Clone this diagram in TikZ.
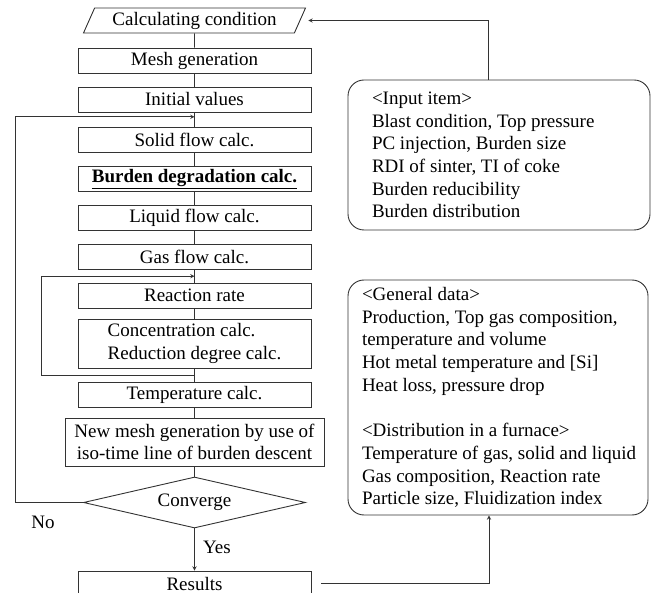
\documentclass[tikz,border=0pt]{standalone}
\usepackage{fontspec}
\setmainfont{Liberation Serif}
\usetikzlibrary{shapes.geometric}
\begin{document}
\begin{tikzpicture}[x=1pt,y=-1pt,line width=0.9pt,draw=black!80,>=stealth,
every node/.style={font=\fontsize{19}{22.7}\selectfont},
fbox/.style={draw,minimum width=233pt,minimum height=25pt,inner sep=2pt},
infobox/.style={draw,rounded corners=16pt,inner sep=0pt}]
\useasboundingbox(0,0)rectangle(656,593);
\pgfmathsetmacro{\kcx}{194.5}
\node[draw,trapezium,trapezium left angle=60,trapezium right angle=120,trapezium stretches body,minimum width=222pt,minimum height=25pt,inner sep=1pt](calc)at(\kcx,20.5){Calculating condition};
\foreach \ky/\nm/\txt in {60.5/mesh/{Mesh generation},99.5/init/{Initial values},140/solid/{Solid flow calc.},179/burden/{\textbf{\underline{Burden degradation calc.}}},217.5/liquid/{Liquid flow calc.},257/gas/{Gas flow calc.},295.5/react/{Reaction rate},394.5/temp/{Temperature calc.}}{\node[fbox](\nm)at(\kcx,\ky){\txt};}
\node[fbox,minimum height=49pt,align=left](conc)at(\kcx,343.5){Concentration calc.\\Reduction degree calc.};
\node[fbox,minimum width=259pt,minimum height=48pt,align=center](newmesh)at(\kcx,442){New mesh generation by use of\\iso-time line of burden descent};
\node[draw,diamond,aspect=4,minimum width=222pt,minimum height=51pt,inner sep=0pt](conv)at(\kcx,502.5){Converge};
\node[fbox,minimum height=25pt](res)at(\kcx,583.5){Results};
\node(no)at(43,522){No};
\node(yes)at(217,547){Yes};
\foreach \a/\b in {calc/mesh,mesh/init,init/solid,solid/burden,burden/liquid,liquid/gas,gas/react,react/conc,conc/temp,temp/newmesh,newmesh/conv}{\draw(\a)--(\b);}
\draw[->](conv)--(res);
\path(init.south)--(solid.north)coordinate[pos=0.3](j1);
\path(gas.south)--(react.north)coordinate[midway](j2);
\path(conc.south)--(temp.north)coordinate[midway](j3);
\draw[->](conv.west)--++(-68,0)|-(j1);
\draw[->](j3)--++(-153.5,0)|-(j2);
\node[infobox,minimum width=302pt,minimum height=150pt](inbox)at(499,155){};
\node[anchor=west,align=left,inner sep=0pt](intxt)at([xshift=24pt]inbox.west){<Input item>\\Blast condition, Top pressure\\PC injection, Burden size\\RDI of sinter, TI of coke\\Burden reducibility\\Burden distribution};
\node[infobox,minimum width=300pt,minimum height=235pt](gen)at(498,397.5){};
\node[anchor=west,align=left,inner sep=0pt](gentxt)at([xshift=14pt]gen.west){<General data>\\Production, Top gas composition,\\temperature and volume\\Hot metal temperature and [Si]\\Heat loss, pressure drop\\[22.7pt]<Distribution in a furnace>\\Temperature of gas, solid and liquid\\Gas composition, Reaction rate\\Particle size, Fluidization index};
\draw[->,shorten >=8pt]([xshift=-11pt]inbox.north)|-(calc.east);
\draw[->]([xshift=10pt]res.east)-|([xshift=-9pt]gen.south);
\end{tikzpicture}
\end{document}
